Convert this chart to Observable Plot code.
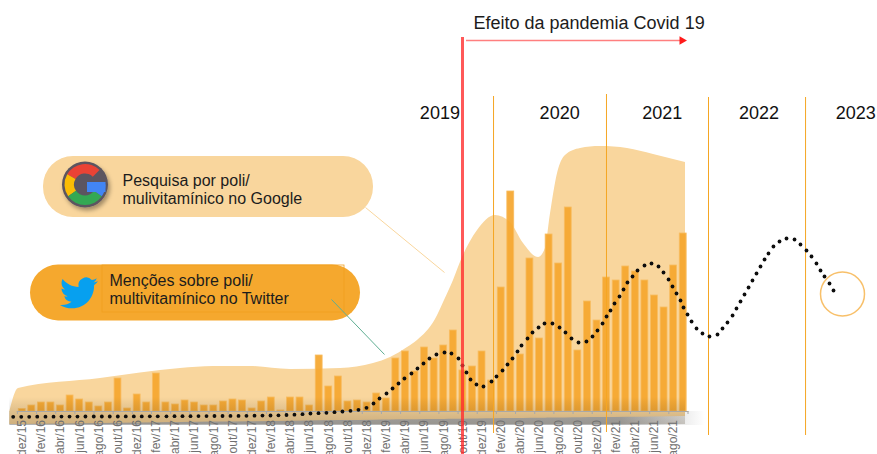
<!DOCTYPE html>
<html lang="pt">
<head>
<meta charset="utf-8">
<style>
html,body{margin:0;padding:0;background:#fff}
svg{display:block}
</style>
<script src="https://cdn.jsdelivr.net/npm/d3@7"></script>
<script src="https://cdn.jsdelivr.net/npm/@observablehq/plot@0.6"></script>
</head>
<body>
<div id="chart"></div>
<script>
// Twitter mentions, one bar per month from dez/15 (month 0) to set/21 (month 69)
const mentions = [2.5,6,9,9,6,16,12,9,5,9,33,3,17,9,38,9,7,11,9,6,6,10,12,11,3,10,14,1,14,14,6,56,25,35,10,11,9,18,13,53,60,40,64,53,66,81,41,45,60,31,124,220,57,153,73,177,148,204,61,110,91,134,131,145,140,131,116,104,146,178];
// Tick labels, every two months
const tickLabels = ["dez/15","fev/16","abr/16","jun/16","ago/16","out/16","dez/16","fev/17","abr/17","jun/17","ago/17","out/17","dez/17","fev/18","abr/18","jun/18","ago/18","out/18","dez/18","fev/19","abr/19","jun/19","ago/19","out/19","dez/19","fev/20","abr/20","jun/20","ago/20","out/20","dez/20","fev/21","abr/21","jun/21","ago/21"];
// Google search interest curve
const googleMonths = [-1.29,-0.39,8.17,16.52,19.97,23.83,28.01,33.23,36.67,38.45,40.22,41.26,43.14,44.08,45.02,45.96,47.53,49.4,50.97,52.33,53.9,54.62,55.15,55.88,56.71,58.28,60.36,63.18,65.9,69.24];
const googleValues = [0,23,33,43,45,45,42,43,48,54,64,71,92,111,131,154,181,196,189,168,154,163,198,238,256,263,265,263,257,249];
const googleFloor = [-13,-12.9,-11.9,-11,-10.6,-10.2,-9.7,-9.1,-8.7,-8.5,-8.3,-8.2,-8,-7.9,-7.8,-7.7,-7.5,-7.3,-7.1,-6.9,-6.7,-6.7,-6.6,-6.5,-6.4,-6.2,-6,-5.7,-5.4,-5];
// Dotted trend, with its projection past the last bar
const trendMonths = [-0.94,-0.10,0.73,1.57,2.43,3.27,4.10,4.94,5.77,6.60,7.47,8.31,9.14,9.98,10.81,11.65,12.48,13.32,14.15,15.06,15.90,16.73,17.57,18.40,19.24,20.07,20.91,21.74,22.58,23.41,24.25,25.08,25.92,26.75,27.59,28.42,29.26,30.09,30.93,31.76,32.6,33.43,34.27,35.1,35.94,36.67,37.3,38.03,38.66,39.28,39.9,40.63,41.26,41.89,42.51,43.24,44.08,44.81,45.54,45.96,46.38,46.8,47.42,48.15,48.99,49.51,50.14,50.66,51.18,51.7,52.12,52.75,53.27,53.9,54.52,55.35,56.09,56.71,57.34,58.07,58.9,59.53,60.05,60.58,61.0,61.41,61.83,62.35,62.77,63.18,63.71,64.23,64.96,65.69,66.42,66.94,67.47,67.88,68.3,68.72,69.03,69.45,69.87,70.39,71.01,71.74,72.58,73.1,73.62,74.15,74.56,74.98,75.4,75.82,76.23,76.65,77.07,77.49,77.9,78.42,79.05,79.78,80.62,81.24,81.87,82.39,82.91,83.33,83.75,84.27,84.69];
const trendValues = [-5.3,-5.3,-5.3,-5.2,-5.2,-5.2,-5.1,-5.1,-5.1,-5,-5,-5,-5,-5,-4.9,-4.9,-4.9,-4.8,-4.8,-4.8,-4.7,-4.7,-4.7,-4.6,-4.6,-4.5,-4.5,-4.4,-4.4,-4.3,-4.2,-4.1,-4,-3.8,-3.5,-3.2,-2.7,-2,-1.7,-1.3,-0.7,0,0.7,1.7,3.7,8,13,18,23,28,33,38,43,48,53,57,59,58,53,46,39,32,27,25,30,35,41,47,53,60,66,73,79,84,88,88,84,79,73,69,70,75,81,88,95,101,108,115,122,129,135,141,146,148,145,139,132,125,118,111,104,97,90,83,78,75,77,83,89,96,103,110,117,124,131,138,145,152,158,165,170,173,172,167,161,155,148,141,135,128,121];
// Vertical markers
const yearRules = [49.2,60.99,71.64,81.77];
const yearRuleTops = [315,317,314,314];
const yearRuleBottoms = [-22,-21,-24,-24];
const pandemicMonth = 45.96;
const yearLabels = ["2019","2020","2021","2022","2023"];
const yearLabelMonths = [43.6,56.1,66.8,76.9,87.0];

const xDomain = [-2.265, 89.28], yDomain = [-43, 411];
const W = 877, H = 454;
// annotation placement: page pixels into the chart's scales
const ax = d3.scaleLinear().domain([0, W]).range(xDomain);
const ay = d3.scaleLinear().domain([H, 0]).range(yDomain);

const bars = mentions.map((v, i) => ({i, v}));
const google = googleMonths.map((m, i) => ({m, v: googleValues[i], low: googleFloor[i]}));
const trend = trendMonths.map((m, i) => ({m, v: trendValues[i]}));
const ticks = tickLabels.map((label, k) => ({label, i: k * 2}));
const tickMarks = d3.range(tickLabels.length + 1).map(k => k * 2 - 0.5);
const rules = yearRules.map((m, i) => ({m, top: yearRuleTops[i], bottom: yearRuleBottoms[i]}));
const years = yearLabels.map((t, i) => ({t, m: yearLabelMonths[i]}));

const font = "'Liberation Sans', Arial, sans-serif";

const defs = () => {
  const d = d3.create("svg:defs");
  d.html(`
    <linearGradient id="band" x1="0" x2="1" y1="0" y2="0">
      <stop offset="0" stop-color="#b4b4b4"/>
      <stop offset="0.88" stop-color="#b4b4b4"/>
      <stop offset="0.96" stop-color="#e6e6e6"/>
      <stop offset="1" stop-color="#ffffff"/>
    </linearGradient>
    <linearGradient id="dim" x1="0" x2="0" y1="0" y2="1">
      <stop offset="0" stop-color="#000" stop-opacity="0"/>
      <stop offset="1" stop-color="#3a2a10" stop-opacity="0.22"/>
    </linearGradient>
    <filter id="soft" x="-30%" y="-30%" width="160%" height="160%">
      <feDropShadow dx="2" dy="3" stdDeviation="2" flood-color="#000" flood-opacity="0.35"/>
    </filter>`);
  return d.node();
};

const icons = () => {
  const g = d3.create("svg:g");
  const gg = g.append("g").attr("transform", "translate(85,184.5)");
  gg.append("circle").attr("r", 23).attr("fill", "#5b5560").attr("filter", "url(#soft)");
  const arc = d3.arc().innerRadius(11).outerRadius(20.5);
  const rad = d => d * Math.PI / 180;
  [["#ea4335",-60,45],["#fbbc05",-125,-60],["#34a853",125,235],["#4285f4",90,125]].forEach(([c,a,b]) => {
    gg.append("path").attr("fill", c).attr("d", arc({startAngle: rad(a), endAngle: rad(b)}));
  });
  gg.append("rect").attr("x", 2).attr("y", -2.5).attr("width", 18.5).attr("height", 10).attr("fill", "#4285f4");
  g.append("path").attr("transform", "translate(60,274) scale(1.58)").attr("fill", "#07a0ef")
    .attr("d", "M23.953 4.57a10 10 0 01-2.825.775 4.958 4.958 0 002.163-2.723c-.951.555-2.005.959-3.127 1.184a4.92 4.92 0 00-8.384 4.482C7.69 8.095 4.067 6.13 1.64 3.162a4.822 4.822 0 00-.666 2.475c0 1.71.87 3.213 2.188 4.096a4.904 4.904 0 01-2.228-.616v.06a4.923 4.923 0 003.946 4.827 4.996 4.996 0 01-2.212.085 4.936 4.936 0 004.604 3.417 9.867 9.867 0 01-6.102 2.105c-.39 0-.779-.023-1.17-.067a13.995 13.995 0 007.557 2.209c9.053 0 13.998-7.496 13.998-13.985 0-.21 0-.42-.015-.63A9.935 9.935 0 0024 4.59z");
  return g.node();
};

const pill = (x1, x2, y1, y2, fill, rx) => Plot.rect([0], {
  x1: ax(x1), x2: ax(x2), y1: ay(y2), y2: ay(y1), fill, rx
});
const note = (text, px, py, size) => Plot.text([text], {
  x: ax(px), y: ay(py), textAnchor: "start", lineAnchor: "bottom", fontSize: size, fill: "#1c1c1c", fontFamily: font
});
const leader = (x1, y1, x2, y2, stroke) => Plot.link([0], {
  x1: ax(x1), y1: ay(y1), x2: ax(x2), y2: ay(y2), stroke, strokeWidth: 1
});

const chart = Plot.plot({
  width: W, height: H,
  marginTop: 0, marginRight: 0, marginBottom: 0, marginLeft: 0,
  x: {domain: xDomain, range: [0, W], axis: null},
  y: {domain: yDomain, range: [H, 0], axis: null},
  style: {background: "#fff", fontFamily: font},
  marks: [
    defs,
    // ground shadow
    Plot.rect([0], {x1: -1.29, x2: 71.3, y1: 0, y2: -14, fill: "url(#band)"}),
    // Google area
    Plot.areaY(google, {x: "m", y1: "low", y2: "v", fill: "#f9d69d", curve: "monotone-x"}),
    // Twitter bars
    Plot.rect(bars, {x1: d => d.i - 0.36, x2: d => d.i + 0.36, y1: 0, y2: "v", fill: "#f5a62e", fillOpacity: 0.92, stroke: "#f8bd62", strokeWidth: 0.8}),
    Plot.rect([0], {x1: -1.29, x2: 69.24, y1: -13, y2: 14, fill: "url(#dim)"}),
    // axis
    Plot.ruleY([0], {x1: -0.52, x2: 69.6, stroke: "#a8a8a8", strokeWidth: 1.2}),
    Plot.ruleX(tickMarks, {y1: 0, y2: -3, stroke: "#a8a8a8", strokeWidth: 1}),
    Plot.text(ticks, {x: "i", y: -8.5, text: "label", rotate: -90, textAnchor: "end", lineAnchor: "middle", fontSize: 12, fill: "#707070", fontFamily: font}),
    // year markers
    Plot.ruleX(rules, {x: "m", y1: "top", y2: "bottom", stroke: "#f5a623", strokeWidth: 1}),
    Plot.text(years, {x: "m", y: ay(118), text: "t", textAnchor: "middle", lineAnchor: "bottom", fontSize: 18, fill: "#111", fontFamily: font}),
    // callouts
    leader(365, 207, 444, 272, "#f9d69d"),
    pill(43, 373, 156, 217, "#f9d69d", 30),
    pill(30, 360, 264.5, 320.5, "#f5a82e", 28),
    Plot.rect([0], {x1: ax(102), x2: ax(344), y1: ay(312), y2: ay(265), fill: "none", stroke: "#f09f1e", strokeWidth: 0.8}),
    leader(331, 299, 384, 354, "#5fae93"),
    icons,
    note("Pesquisa por poli/", 122, 185, 16),
    note("mulivitamínico no Google", 122, 203, 16),
    note("Menções sobre poli/", 109, 285, 16),
    note("multivitamínico no Twitter", 109, 303, 16),
    // trend
    Plot.dot(trend, {x: "m", y: "v", r: 1.9, fill: "#0d0d0d"}),
    Plot.dot([0], {x: ax(842), y: ay(293.5), r: 22, fill: "none", stroke: "#f8c06a", strokeWidth: 1.5}),
    // pandemic marker
    Plot.ruleX([pandemicMonth], {y1: ay(37), y2: ay(454), stroke: "#ff2e2e", strokeWidth: 3, strokeOpacity: 0.8}),
    Plot.ruleY([ay(40)], {x1: ax(466), x2: ax(681), stroke: "#ff7f7f", strokeWidth: 1.4}),
    Plot.dot([0], {x: ax(681.5), y: ay(40), symbol: "triangle", r: 3.2, rotate: 90, fill: "#ff1a1a"}),
    note("Efeito da pandemia Covid 19", 473, 28, 18)
  ]
});
document.getElementById("chart").append(chart);
</script>
</body>
</html>
